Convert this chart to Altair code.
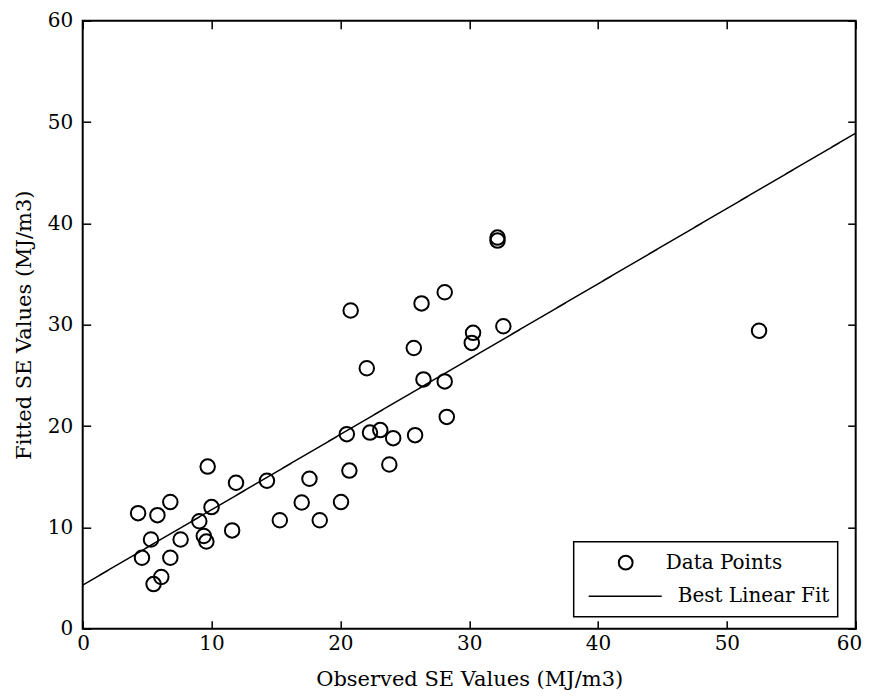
import altair as alt
import pandas as pd

# Values
observed = [4.3, 5.8, 6.8, 5.3, 4.6, 6.8, 5.5, 6.1, 7.6, 9.05, 9.4, 9.6, 9.7, 10.0,
            11.6, 11.9, 14.3, 15.3, 17.0, 17.6, 18.4, 20.05, 20.7, 20.5, 20.8, 22.05,
            22.3, 23.1, 23.8, 24.1, 25.7, 25.8, 26.3, 26.45, 28.1, 28.1, 28.26, 30.3,
            30.2, 32.65, 32.2, 32.2, 52.5]
fitted = [11.4, 11.2, 12.5, 8.8, 7.0, 7.0, 4.4, 5.1, 8.8, 10.6, 9.15, 8.6, 16.0, 12.0,
          9.7, 14.4, 14.6, 10.7, 12.45, 14.8, 10.7, 12.5, 15.6, 19.2, 31.4, 25.7,
          19.35, 19.6, 16.2, 18.8, 27.7, 19.1, 32.1, 24.6, 33.2, 24.4, 20.9, 29.2,
          28.2, 29.85, 38.6, 38.3, 29.4]
fit_line_x = [0, 60]
fit_line_y = [4.3, 48.9]
ticks = [0, 10, 20, 30, 40, 50, 60]
series_names = ["Data Points", "Best Linear Fit"]

FONT = "DejaVu Serif"
W, H = 773, 608

pts = pd.DataFrame({"obs": observed, "fit": fitted, "series": series_names[0]})
fit = pd.DataFrame({"obs": fit_line_x, "fit": fit_line_y, "series": series_names[1]})

xscale = alt.Scale(domain=[0, 60], nice=False, zero=False)
yscale = alt.Scale(domain=[0, 60], nice=False, zero=False)

common_axis = dict(values=ticks, offset=-8, tickSize=8, tickWidth=1.5, tickColor="black",
                   domain=False, grid=False, labelFont=FONT, labelFontSize=20,
                   labelColor="black", titleFont=FONT, titleFontSize=21,
                   titleFontWeight="normal", titleColor="black", format="d")

x_bottom = alt.Axis(orient="bottom", labelPadding=5, title="Observed SE Values (MJ/m3)",
                    titlePadding=15, labelFlush=True, labelFlushOffset=6, **common_axis)
y_left = alt.Axis(orient="left", labelPadding=10, title="Fitted SE Values (MJ/m3)",
                  titlePadding=13, labelFlush=False, **common_axis)
x_top = alt.Axis(orient="top", labels=False, title=None, **common_axis)
y_right = alt.Axis(orient="right", labels=False, title=None, **common_axis)

points = alt.Chart(pts).mark_point(
    filled=False, size=210, strokeWidth=2, color="black", opacity=1
).encode(
    x=alt.X("obs:Q", scale=xscale, axis=x_bottom),
    y=alt.Y("fit:Q", scale=yscale, axis=y_left),
    shape=alt.Shape(
        "series:N",
        scale=alt.Scale(domain=[series_names[0]], range=["circle"]),
        legend=alt.Legend(
            orient="none", legendX=533, legendY=532, title=None, padding=0,
            labelFont=FONT, labelFontSize=20, labelColor="black", labelOffset=30,
            symbolSize=190, symbolStrokeWidth=2, symbolStrokeColor="black",
            symbolFillColor="white",
        ),
    ),
)

line = alt.Chart(fit).mark_line(color="black", strokeWidth=1.5).encode(
    x=alt.X("obs:Q", scale=xscale, axis=x_top),
    y=alt.Y("fit:Q", scale=yscale, axis=y_right),
    strokeDash=alt.StrokeDash(
        "series:N",
        scale=alt.Scale(domain=[series_names[1]], range=[[1, 0]]),
        legend=alt.Legend(
            orient="none", legendX=505, legendY=538, title=None, padding=0,
            labelFont=FONT, labelFontSize=20, labelColor="black", labelOffset=15,
            symbolSize=5329, symbolStrokeWidth=1.5, symbolStrokeColor="black",
        ),
    ),
)

legend_box = alt.Chart(alt.Data(values=[{}])).mark_rect(
    fill="white", stroke="black", strokeWidth=1.5
).encode(
    x=alt.value(491), x2=alt.value(755), y=alt.value(521), y2=alt.value(596)
)

chart = alt.layer(line, points, legend_box).resolve_axis(
    x="independent", y="independent"
).properties(
    width=W, height=H, autosize="none",
    padding={"left": 74.7, "top": 12.7, "right": 6, "bottom": 68},
    background="white",
).configure_view(stroke="black", strokeWidth=2)

chart.save("out.html", embed_options={"renderer": "svg", "actions": False})
